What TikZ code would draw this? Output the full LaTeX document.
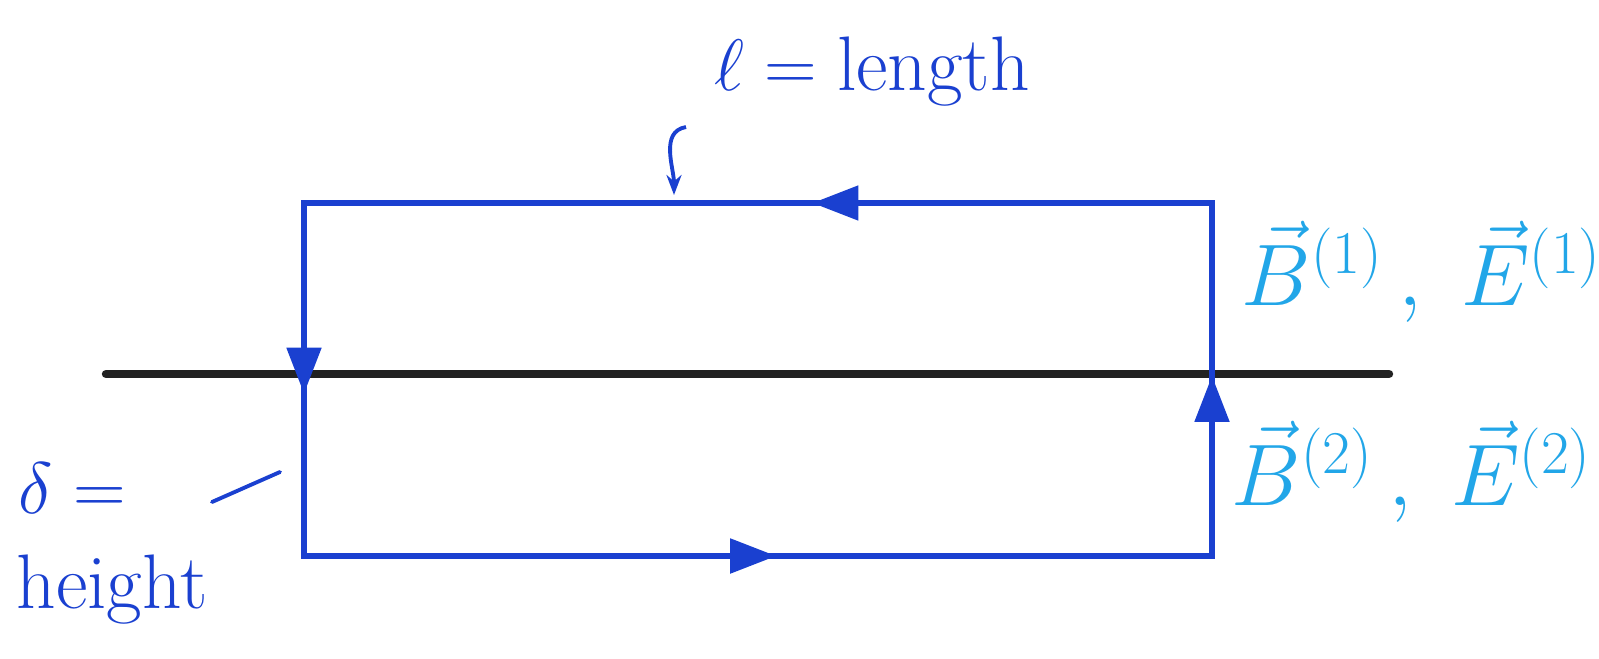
\documentclass[tikz,border=0pt]{standalone}
\usepackage{amsmath}
\usetikzlibrary{arrows.meta, decorations.markings}
\definecolor{inkblue}{HTML}{1A40D0}
\definecolor{inkcyan}{HTML}{22A6E8}
\definecolor{inkdark}{HTML}{222222}
\tikzset{
  midarrow/.style={postaction={decorate, decoration={markings,
      mark=at position #1 with {\arrow{Triangle[length=4.6mm, width=3.4mm]}}}}},
  loopedge/.style={draw=inkblue, line width=1.5pt, line cap=rect},
  hand/.style={text=inkblue, font=\fontsize{22}{26}\selectfont},
  field/.style={text=inkcyan, font=\fontsize{23}{28}\selectfont}
}

\begin{document}
\begin{tikzpicture}
      \useasboundingbox (0,0) rectangle (15.99,-6.58);
      \coordinate (tl) at (3.04,-2.03);
      \coordinate (tr) at (12.12,-2.03);
      \coordinate (br) at (12.12,-5.56);
      \coordinate (bl) at (3.04,-5.56);
      \coordinate (surfL) at (1.06,-3.74);
      \coordinate (surfR) at (13.89,-3.74);
      \draw[inkdark, line width=2.4pt, line cap=round] (surfL) -- (surfR);
      \draw[loopedge, midarrow=0.44] (tr) -- (tl);
      \draw[loopedge, midarrow=0.54] (tl) -- (bl);
      \draw[loopedge, midarrow=0.52] (bl) -- (br);
      \draw[loopedge, midarrow=0.51] (br) -- (tr);
      \node[hand] (len) at (8.72,-0.72) {$\ell = \text{length}$};
      \coordinate (lenTail) at (6.86,-1.27);
      \coordinate (lenHead) at (6.74,-1.95);
      \draw[-{Stealth[length=2mm]}, inkblue, line width=1.1pt]
        (lenTail) to[out=190, in=90] (lenHead);
      \node[hand] (delta) at (0.72,-4.88) {$\delta =$};
      \node[hand] (height) at (1.12,-5.9) {height};
      \coordinate (tickA) at (2.12,-5.02);
      \coordinate (tickB) at (2.80,-4.72);
      \draw[inkblue, line width=1.1pt, line cap=round] (tickA) -- (tickB);
      \node[field] (top) at (14.22,-2.72) {$\vec{B}^{(1)}\,,\ \vec{E}^{(1)}$};
      \node[field] (bottom) at (14.12,-4.72) {$\vec{B}^{(2)}\,,\ \vec{E}^{(2)}$};
    \end{tikzpicture}
\end{document}
